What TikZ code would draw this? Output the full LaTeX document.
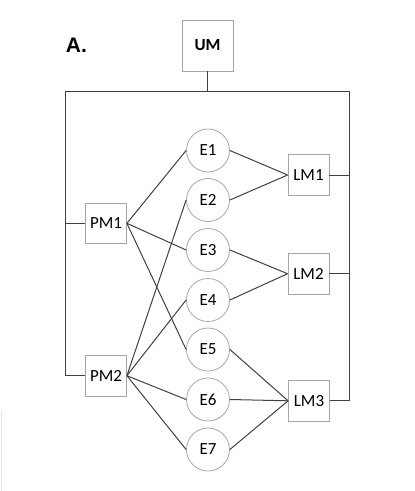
\documentclass[tikz,border=0pt]{standalone}
\usepackage{fontspec}
\setmainfont{Carlito}
\newfontfamily\labelfont{Liberation Sans}
\begin{document}
\begin{tikzpicture}[x=1pt,y=-1pt,
  boxnode/.style={draw=black!35,line width=0.8pt,minimum width=41pt,minimum height=40.5pt,inner sep=0pt,font=\fontsize{17}{19}\selectfont},
  evnode/.style={draw=black!35,line width=0.8pt,circle,minimum size=43pt,inner sep=0pt,font=\fontsize{17}{19}\selectfont},
  link/.style={draw=black!75,line width=1pt}]
\useasboundingbox (0,0) rectangle (415,491);
\draw[black!10,line width=0.8pt] (1.3,410.7) -- (1.3,491);
\node[anchor=base west,font=\labelfont\bfseries\fontsize{21}{24}\selectfont,inner sep=0pt] (lab) at (65.7,52.7) {A.};
\node[boxnode,minimum width=51pt,minimum height=51pt,font=\bfseries\fontsize{17}{19}\selectfont] (UM) at (207.5,45.5) {UM};
\node[boxnode] (PM1) at (106,223.3) {PM1};
\node[boxnode] (PM2) at (106,375.7) {PM2};
\node[boxnode] (LM1) at (308.5,175) {LM1};
\node[boxnode] (LM2) at (308.5,273.7) {LM2};
\node[boxnode] (LM3) at (309,400.8) {LM3};
\foreach \i/\y in {1/150.5,2/200,3/250,4/300,5/349.5,6/399.5,7/449.5}
  \node[evnode] (E\i) at (208,\y) {E\i};
\coordinate (barL) at (65.7,91);
\coordinate (barR) at (349.3,91);
\coordinate (barM) at (UM.south |- barL);
\draw[link] (UM.south) -- (barM);
\draw[link] (PM2.west) -| (barL) -- (barR) |- (LM3.east);
\draw[link] (PM1.west) -- (PM1.west -| barL);
\draw[link] (LM1.east) -- (LM1.east -| barR);
\draw[link] (LM2.east) -- (LM2.east -| barR);
\foreach \e in {1,3,5} \draw[link] (PM1.east) -- (E\e.west);
\foreach \e in {2,4,6,7} \draw[link] (PM2.east) -- (E\e.west);
\foreach \e in {1,2} \draw[link] (E\e.east) -- (LM1.west);
\foreach \e in {3,4} \draw[link] (E\e.east) -- (LM2.west);
\foreach \e in {5,6,7} \draw[link] (E\e.east) -- (LM3.west);
\end{tikzpicture}
\end{document}
